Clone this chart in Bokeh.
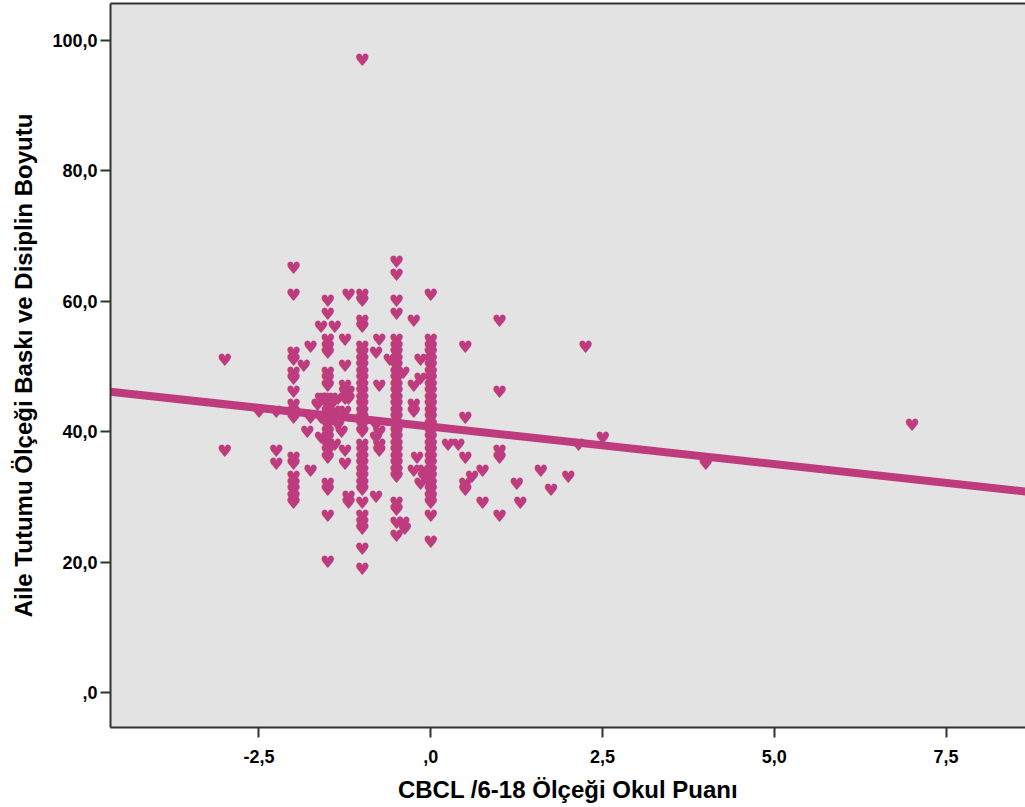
from bokeh.plotting import figure
from bokeh.models import Range1d, LinearAxis, FixedTicker, ColumnDataSource
from bokeh.core.properties import value
from bokeh.embed import file_html
from bokeh.resources import INLINE

# ---- data ----
x_score = (
    [-3.0, -3.0]
    + [-2.5]
    + [-2.25, -2.25, -2.25]
    + [-2.0] * 17
    + [-1.85, -1.8]
    + [-1.75, -1.75, -1.75]
    + [-1.6, -1.6, -1.6, -1.6, -1.65, -1.55]
    + [-1.5] * 22
    + [-1.45, -1.45, -1.4, -1.4, -1.4, -1.35, -1.35, -1.3, -1.3]
    + [-1.25] * 8
    + [-1.2] * 5
    + [-1.0] * 33
    + [-0.8] * 4
    + [-0.75] * 5
    + [-0.6]
    + [-0.5] * 30
    + [-0.4, -0.4, -0.38]
    + [-0.25] * 5
    + [-0.2, -0.15, -0.15, -0.15, -0.1, -0.1]
    + [0.0] * 29
    + [0.25, 0.4]
    + [0.5] * 5
    + [0.6, 0.75, 0.75]
    + [1.0] * 5
    + [1.25, 1.3, 1.6, 1.75, 2.0, 2.15, 2.25, 2.5, 4.0, 7.0]
)
y_score = (
    [51, 37]
    + [43]
    + [43, 37, 35]
    + [65, 61, 52, 51, 49, 48, 46, 44, 43, 42, 36, 35, 33, 32, 31, 30, 29]
    + [50, 40]
    + [53, 42, 34]
    + [56, 45, 42, 39, 44, 45]
    + [60, 58, 54, 53, 52, 49, 48, 47, 45, 44, 43, 42, 41, 40, 39, 38, 37, 36, 32, 31, 27, 20]
    + [44, 42, 56, 43, 38, 45, 41, 42, 40]
    + [54, 50, 47, 46, 45, 43, 37, 35]
    + [61, 46, 45, 30, 29]
    + [97, 61, 60, 57, 56, 53, 52, 51, 50, 49, 48, 47, 46, 45, 44, 43, 42, 41, 40,
       38, 37, 36, 35, 34, 33, 32, 31, 29, 27, 26, 25, 22, 19]
    + [52, 41, 39, 30]
    + [54, 47, 40, 38, 37]
    + [51]
    + [66, 64, 60, 58, 54, 53, 52, 51, 50, 49, 48, 47, 46, 45, 44, 43, 42, 41, 40,
       39, 38, 37, 36, 35, 34, 33, 29, 28, 26, 24]
    + [49, 26, 25]
    + [57, 47, 44, 43, 34]
    + [36, 51, 48, 32, 34, 33]
    + [61, 54, 53, 52, 50, 49, 48, 47, 46, 45, 44, 43, 42, 41, 40, 39, 38, 37, 36,
       35, 34, 33, 32, 31, 30, 29, 27, 23, 51]
    + [38, 38]
    + [53, 42, 36, 32, 31]
    + [33, 34, 29]
    + [57, 46, 37, 36, 27]
    + [32, 29, 34, 31, 33, 38, 53, 39, 35, 41]
)

# fitted line (read at the left and right edges of the plot area)
fit_x = [-4.66, 8.655]
fit_y = [46.1, 30.8]

x_ticks = [-2.5, 0.0, 2.5, 5.0, 7.5]
x_tick_labels = ["-2,5", ",0", "2,5", "5,0", "7,5"]
y_ticks = [0, 20, 40, 60, 80, 100]
y_tick_labels = [",0", "20,0", "40,0", "60,0", "80,0", "100,0"]

x_title = "CBCL /6-18 Ölçeği Okul Puanı"
y_title = "Aile Tutumu Ölçeği Baskı ve Disiplin Boyutu"

COLOR = "#BE3C7E"
AXIS = "#333333"
FONT = "Liberation Sans"

p = figure(
    width=1025, height=807,
    output_backend="svg", toolbar_location=None,
    x_range=Range1d(-4.66, 8.655), y_range=Range1d(-5.36, 105.6),
    min_border_left=110, min_border_right=0, min_border_top=3, min_border_bottom=80,
    background_fill_color="#E3E3E3", border_fill_color="white",
    outline_line_color=None,
)
p.xgrid.visible = False
p.ygrid.visible = False

p.xaxis.ticker = FixedTicker(ticks=x_ticks)
p.yaxis.ticker = FixedTicker(ticks=y_ticks)
p.xaxis.major_label_overrides = {t: l for t, l in zip(x_ticks, x_tick_labels)}
p.yaxis.major_label_overrides = {t: l for t, l in zip(y_ticks, y_tick_labels)}
p.xaxis.axis_label = x_title
p.yaxis.axis_label = y_title

for ax in (p.xaxis[0], p.yaxis[0]):
    ax.axis_line_color = AXIS
    ax.axis_line_width = 2
    ax.major_tick_line_color = AXIS
    ax.major_tick_line_width = 2
    ax.major_tick_out = 10
    ax.major_tick_in = 0
    ax.minor_tick_line_color = None
    ax.major_label_text_font = FONT
    ax.major_label_text_font_style = "bold"
    ax.major_label_text_font_size = "18px"
    ax.major_label_text_color = "black"
    ax.axis_label_text_font = FONT
    ax.axis_label_text_font_style = "bold"
    ax.axis_label_text_font_size = "24px"
    ax.axis_label_text_color = "black"

p.yaxis.major_label_standoff = 3
p.yaxis.axis_label_standoff = 12
p.xaxis.major_label_standoff = 12
p.xaxis.axis_label_standoff = 10

top = LinearAxis(ticker=FixedTicker(ticks=[]), axis_line_color=AXIS, axis_line_width=2,
                 major_tick_line_color=None, minor_tick_line_color=None,
                 major_label_text_font_size="0px")
p.add_layout(top, "above")

p.line(fit_x, fit_y, line_width=8, line_color=COLOR)

src = ColumnDataSource(dict(x=x_score, y=y_score, t=["\u2665"] * len(x_score)))
p.text(x="x", y="y", text="t", source=src, text_font=value("DejaVu Sans"),
       text_font_size=value("17px"), text_align="center", text_baseline="middle",
       text_color=COLOR)

open("out.html", "w").write(file_html(p, INLINE))
